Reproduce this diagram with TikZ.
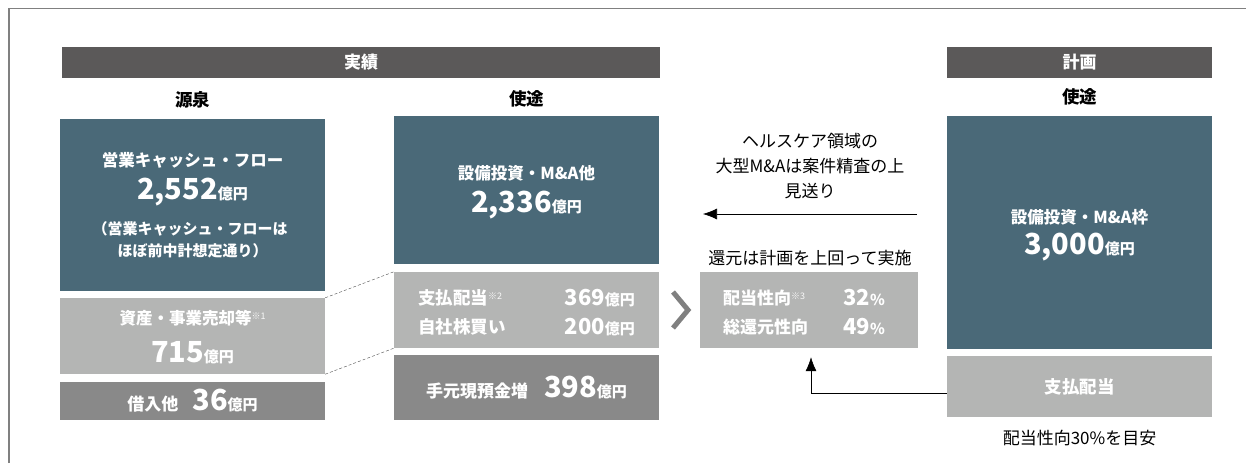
\documentclass[tikz,border=0pt]{standalone}
\usepackage{fontspec}
\setmainfont{Noto Sans CJK JP}
\usetikzlibrary{arrows.meta}
\definecolor{cfBar}{HTML}{5B5959}
\definecolor{cfTeal}{HTML}{4A6978}
\definecolor{cfLight}{HTML}{B4B5B4}
\definecolor{cfMid}{HTML}{898989}
\definecolor{cfFrame}{HTML}{808080}
\newcommand{\numL}[1]{{\fontsize{29}{30}\selectfont #1}}
\newcommand{\numM}[1]{{\fontsize{22}{24}\selectfont #1}}
\newcommand{\unit}[1]{{\fontsize{15}{16}\selectfont #1}}
\newcommand{\note}[1]{{\fontsize{9}{9}\selectfont\mdseries\color{white!95!gray}\raisebox{5pt}{#1}}}
\begin{document}
\begin{tikzpicture}[x=1pt, y=-1pt, >={Latex[length=14pt, width=11pt]},
    box/.style={rectangle, inner sep=0pt, minimum width=265pt, text=white},
    bar/.style={rectangle, fill=cfBar, inner sep=0pt, minimum height=31pt, text=white, font=\fontsize{17}{18}\selectfont\bfseries},
    head/.style={font=\fontsize{17.5}{18}\selectfont\bfseries},
    lbl/.style={text=white, inner sep=0pt, font=\fontsize{16.5}{18}\selectfont\bfseries},
    sml/.style={text=white, inner sep=0pt, font=\fontsize{15}{16}\selectfont\bfseries},
    txt/.style={inner sep=0pt, font=\fontsize{17}{25}\selectfont, align=center},
    dotline/.style={densely dashed, thin, black!70},
    frame/.style={draw=cfFrame, line width=1.5pt}]
    \useasboundingbox (0,0) rectangle (1246,463);
    \draw[frame] (9,463) -- (9,8.5) -- (1246,8.5);

    % headings
    \node[bar, minimum width=598pt] (done) at (361,62.5) {実績};
    \node[bar, minimum width=265pt] (plan) at (1079.5,62.5) {計画};
    \node[head] (src) at (192.5,100) {源泉};
    \node[head] (use) at (526.5,99) {使途};
    \node[head] (puse) at (1079.5,97) {使途};

    % sources
    \node[box, fill=cfTeal, minimum height=172pt] (L1) at (192.5,205) {};
    \node[lbl] (L1a) at (192.5,160) {営業キャッシュ・フロー};
    \node[lbl] (L1b) at (192.5,192) {\numL{2,552}\unit{億円}};
    \node[sml] (L1c) at (190,229) {（営業キャッシュ・フローは};
    \node[sml] (L1d) at (192.5,251) {ほぼ前中計想定通り）};
    \node[box, fill=cfLight, minimum height=76pt] (L2) at (192.5,336) {};
    \node[lbl] (L2a) at (192.5,318) {資産・事業売却等\note{※1}};
    \node[lbl] (L2b) at (192.5,353) {\numL{715}\unit{億円}};
    \node[box, fill=cfMid, minimum height=38pt, font=\fontsize{17}{18}\selectfont\bfseries] (L3) at (192.5,401) {借入他\hspace{14pt}\numL{36}\unit{億円}};

    % uses
    \node[box, fill=cfTeal, minimum height=148pt] (M1) at (526.5,190) {};
    \node[lbl] (M1a) at (526.5,173) {設備投資・M\&A他};
    \node[lbl] (M1b) at (526.5,205) {\numL{2,336}\unit{億円}};
    \node[box, fill=cfLight, minimum height=76pt] (M2) at (526.5,310) {};
    \node[lbl, anchor=west, font=\fontsize{17.5}{18}\selectfont\bfseries] (M2a) at (418,298) {支払配当\note{※2}};
    \node[lbl, anchor=east] (M2b) at (635,298) {\numM{369}\unit{億円}};
    \node[lbl, anchor=west, font=\fontsize{17.5}{18}\selectfont\bfseries] (M2c) at (418,327) {自社株買い};
    \node[lbl, anchor=east] (M2d) at (635,327) {\numM{200}\unit{億円}};
    \node[box, fill=cfMid, minimum height=65pt, font=\fontsize{17}{18}\selectfont\bfseries] (M3) at (526.5,387.5) {手元現預金増\hspace{16pt}\numL{398}\unit{億円}};
    \draw[dotline] (L2.north east) -- (M2.north west);
    \draw[dotline] (L2.south east) -- (M2.south west);

    % chevron
    \coordinate (chA) at (673,292);
    \coordinate (chB) at (688,310);
    \coordinate (chC) at (673,328);
    \draw[cfFrame, line width=5pt, line join=miter] (chA) -- (chB) -- (chC);

    % returns
    \node[txt] (skip) at (810,166) {ヘルスケア領域の\\大型M\&Aは案件精査の上\\見送り};
    \coordinate (arrS) at (917,214);
    \coordinate (arrE) at (703,214);
    \draw[->, semithick] (arrS) -- (arrE);
    \node[txt] (over) at (810,258) {還元は計画を上回って実施};
    \node[box, fill=cfLight, minimum width=218pt, minimum height=76pt] (K) at (809,310) {};
    \node[lbl, anchor=west, font=\fontsize{17}{18}\selectfont\bfseries] (Ka) at (723,298) {配当性向\note{※3}};
    \node[lbl, anchor=west] (Kb) at (843,298) {\numM{32}\unit{\%}};
    \node[lbl, anchor=west, font=\fontsize{17}{18}\selectfont\bfseries] (Kc) at (723,327) {総還元性向};
    \node[lbl, anchor=west] (Kd) at (843,327) {\numM{49}\unit{\%}};

    % plan
    \node[box, fill=cfTeal, minimum height=233pt] (R1) at (1079.5,232.5) {};
    \node[lbl] (R1a) at (1079.5,217) {設備投資・M\&A枠};
    \node[lbl] (R1b) at (1079.5,247) {\numL{3,000}\unit{億円}};
    \node[box, fill=cfLight, minimum height=61pt, font=\fontsize{17.5}{18}\selectfont\bfseries] (R2) at (1079.5,386.5) {支払配当};
    \node[txt] (aim) at (1079.5,438) {配当性向30\%を目安};
    \coordinate (turn) at (811,393);
    \draw[->, semithick] ([yshift=-6.5pt]R2.west) -- (turn) -- ([xshift=2pt, yshift=-9pt]K.south);
\end{tikzpicture}
\end{document}
